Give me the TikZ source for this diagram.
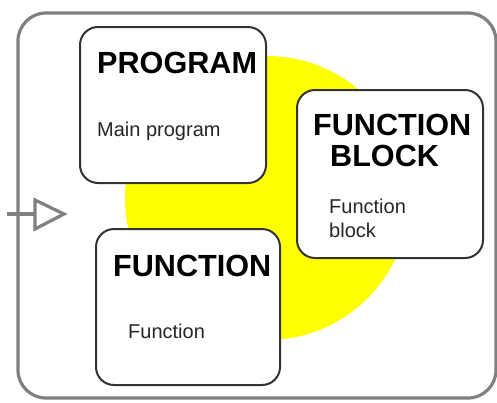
\documentclass[tikz,border=0pt]{standalone}
\usepackage{fontspec}
\setmainfont{Liberation Sans}
\definecolor{pureyellow}{RGB}{255,255,0}
\tikzset{
  outerframe/.style={draw=black!50, line width=3.2bp, rounded corners=28bp},
  card/.style={draw=black!80, line width=2bp, fill=white, rounded corners=18bp, rectangle, inner sep=0pt},
  headtxt/.style={anchor=base west, inner sep=0pt, font=\fontsize{30.6bp}{31bp}\selectfont\bfseries},
  subtxt/.style={anchor=base west, inner sep=0pt, text=black!85, font=\fontsize{20bp}{24bp}\selectfont},
  portline/.style={draw=black!50, line width=3.2bp},
}
\begin{document}
\begin{tikzpicture}[x=1bp,y=-1bp]
\useasboundingbox (0,0) rectangle (497,402);
\fill[pureyellow] (267,198) circle[radius=142];
\draw[outerframe] (18,13) rectangle (496,398);
\coordinate (pin) at (7,214);
\coordinate (tipbase) at (35,214);
\draw[portline] (pin) -- (tipbase);
\draw[portline, line join=miter] (35,200) -- (64,214) -- (35,229) -- cycle;
% boxes
\node[card, minimum width=186bp, minimum height=156bp] (prog) at (173,105) {};
\node[card, minimum width=186bp, minimum height=168bp] (fb) at (390,174) {};
\node[card, minimum width=184bp, minimum height=156bp] (fn) at (188,307) {};
% texts
\node[headtxt] (progT) at (97,73) {PROGRAM};
\node[subtxt] (progS) at (97,136) {Main program};
\node[headtxt] (fbT1) at (313,135) {FUNCTION};
\node[headtxt] (fbT2) at (330,166) {BLOCK};
\node[subtxt] (fbS1) at (329,213) {Function};
\node[subtxt] (fbS2) at (329,237) {block};
\node[headtxt] (fnT) at (113,276) {FUNCTION};
\node[subtxt] (fnS) at (128,338) {Function};
\end{tikzpicture}
\end{document}
